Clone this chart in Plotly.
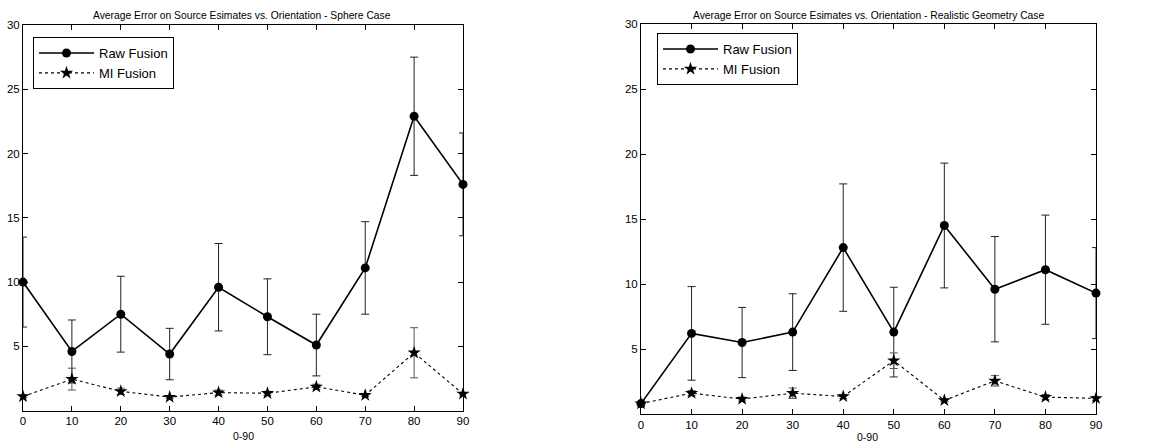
import plotly.graph_objects as go

angles = [0, 10, 20, 30, 40, 50, 60, 70, 80, 90]

sphere_raw = [10.0, 4.6, 7.5, 4.4, 9.6, 7.3, 5.1, 11.1, 22.9, 17.6]
sphere_raw_err = [3.5, 2.45, 2.95, 2.0, 3.4, 2.95, 2.4, 3.6, 4.6, 4.0]
sphere_mi = [1.1, 2.45, 1.5, 1.05, 1.4, 1.35, 1.85, 1.2, 4.5, 1.3]
sphere_mi_err = [0.1, 0.85, 0.25, 0.1, 0.2, 0.15, 0.2, 0.1, 1.95, 0.1]

real_raw = [0.8, 6.2, 5.5, 6.3, 12.8, 6.3, 14.5, 9.6, 11.1, 9.3]
real_raw_err = [0.2, 3.6, 2.7, 2.95, 4.9, 3.45, 4.8, 4.05, 4.2, 3.5]
real_mi = [0.8, 1.6, 1.15, 1.6, 1.35, 4.1, 1.05, 2.55, 1.3, 1.2]
real_mi_err = [0.1, 0.2, 0.15, 0.4, 0.15, 0.6, 0.1, 0.4, 0.2, 0.15]

titles = ["Average Error on Source Esimates vs. Orientation - Sphere Case",
          "Average Error on Source Esimates vs. Orientation - Realistic Geometry Case"]
x_label = "0-90"
y_ticks = [5, 10, 15, 20, 25, 30]
x_ticks = angles

FONT = "Liberation Sans, Arial, sans-serif"
W, H = 1156, 443

fig = go.Figure()

def add_pair(raw, raw_err, mi, mi_err, xa, ya, legend):
    fig.add_trace(go.Scatter(
        x=angles, y=raw, name="Raw Fusion", mode="lines+markers",
        line=dict(color="black", width=1.6),
        marker=dict(symbol="circle", size=9, color="black"),
        error_y=dict(type="data", array=raw_err, visible=True, color="#222",
                     thickness=1, width=4),
        xaxis=xa, yaxis=ya, legend=legend, cliponaxis=False))
    fig.add_trace(go.Scatter(
        x=angles, y=mi, name="MI Fusion", mode="lines+markers",
        line=dict(color="black", width=1.1, dash="dot"),
        marker=dict(symbol="star", size=10, color="black"),
        error_y=dict(type="data", array=mi_err, visible=True, color="#555",
                     thickness=1, width=4),
        xaxis=xa, yaxis=ya, legend=legend, cliponaxis=False))

add_pair(sphere_raw, sphere_raw_err, sphere_mi, sphere_mi_err, "x", "y", "legend")
add_pair(real_raw, real_raw_err, real_mi, real_mi_err, "x2", "y2", "legend2")

axis_common = dict(showline=True, linecolor="black", linewidth=1, mirror="ticks",
                   ticks="inside", ticklen=5, tickcolor="black", showgrid=False,
                   zeroline=False, tickfont=dict(family=FONT, size=11.5, color="black"),
                   automargin=False)

legend_common = dict(xanchor="left", yanchor="top",
                     bordercolor="black", borderwidth=1, bgcolor="white",
                     font=dict(family=FONT, size=13, color="black"),
                     tracegroupgap=0, itemwidth=55)

def ann(text, px, py, size):
    return dict(text=text, x=px / W, y=1 - py / H, xref="paper", yref="paper",
                xanchor="center", yanchor="middle", showarrow=False,
                font=dict(family=FONT, size=size, color="black"))

fig.update_layout(
    width=W, height=H,
    margin=dict(l=0, r=0, t=0, b=0),
    paper_bgcolor="white", plot_bgcolor="white",
    showlegend=True,
    xaxis=dict(domain=[23 / W, 463 / W], range=[0, 90], tickvals=x_ticks, anchor="y", **axis_common),
    yaxis=dict(domain=[1 - 410.6 / H, 1 - 25 / H], range=[0, 30], tickvals=y_ticks, anchor="x", **axis_common),
    xaxis2=dict(domain=[641 / W, 1096 / W], range=[0, 90], tickvals=x_ticks, anchor="y2", **axis_common),
    yaxis2=dict(domain=[1 - 414 / H, 1 - 24 / H], range=[0, 30], tickvals=y_ticks, anchor="x2", **axis_common),
    legend=dict(x=33 / W, y=1 - 37 / H, **legend_common),
    legend2=dict(x=657 / W, y=1 - 33 / H, **legend_common),
    annotations=[
        ann(titles[0], 242, 15, 10.3),
        ann(titles[1], 868, 15, 10.3),
        ann(x_label, 243, 435.5, 10.5),
        ann(x_label, 867, 436.5, 10.5),
    ],
)

fig.write_html("out.html", config={"displayModeBar": False},
               post_script="document.body.style.margin='0';document.body.style.overflow='hidden';")
